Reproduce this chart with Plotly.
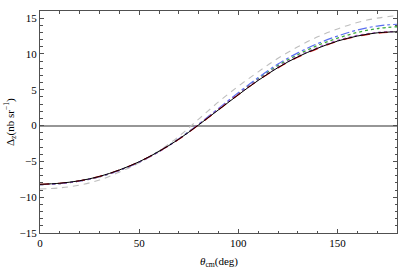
import plotly.graph_objects as go

theta = [0, 10, 20, 30, 40, 50, 60, 70, 80, 90, 100, 110, 120, 130, 140, 150, 160, 170, 180]

black = [-8.2, -8.05, -7.7, -7.1, -6.2, -5.05, -3.6, -1.9, 0.1, 2.2, 4.3, 6.3, 8.1, 9.6, 10.8, 11.8, 12.5, 12.95, 13.1]
red = [-8.2, -8.05, -7.7, -7.1, -6.2, -5.05, -3.6, -1.9, 0.1, 2.2, 4.3, 6.3, 8.05, 9.55, 10.75, 11.75, 12.45, 12.9, 13.05]
purple = [-8.25, -8.1, -7.75, -7.15, -6.25, -5.1, -3.65, -1.9, 0.15, 2.3, 4.4, 6.4, 8.2, 9.7, 10.9, 11.9, 12.6, 13.0, 13.15]
blue = [-8.25, -8.1, -7.75, -7.15, -6.25, -5.1, -3.6, -1.85, 0.2, 2.4, 4.6, 6.7, 8.6, 10.15, 11.45, 12.5, 13.35, 13.9, 14.15]
green = [-8.25, -8.1, -7.75, -7.15, -6.25, -5.1, -3.6, -1.85, 0.15, 2.3, 4.45, 6.5, 8.4, 9.9, 11.2, 12.2, 13.0, 13.55, 13.8]
gray = [-8.85, -8.7, -8.3, -7.6, -6.5, -5.2, -3.55, -1.5, 0.9, 3.3, 5.5, 7.5, 9.4, 11.0, 12.4, 13.5, 14.4, 15.0, 15.35]

x_ticks = [0, 50, 100, 150]
y_ticks = [-15, -10, -5, 0, 5, 10, 15]
y_ticklabels = ["−15", "−10", "−5", "0", "5", "10", "15"]
x_title = "<i>θ</i><sub>cm</sub>(deg)"
y_title = "Δ<sub>z</sub>(nb sr<sup>−1</sup>)"

fig = go.Figure()
series = [
    (gray, "rgb(190,190,190)", "6px,5px", 1.1),
    (green, "rgb(60,170,60)", "dot", 1.3),
    (blue, "rgb(90,110,240)", "dashdot", 1.2),
    (purple, "rgb(170,90,200)", "dot", 1.2),
    (red, "rgb(220,30,30)", "dash", 1.2),
    (black, "black", "solid", 1.0),
]
for ys, col, dash, w in series:
    fig.add_trace(go.Scatter(x=theta, y=ys, mode="lines", line=dict(color=col, dash=dash, width=w, shape="spline"),
                             showlegend=False, hoverinfo="skip"))

font = dict(family="Liberation Serif", size=11, color="black")
axis_common = dict(showgrid=False, showline=True, linecolor="rgb(80,80,80)", linewidth=1, mirror="allticks",
                   ticks="inside", ticklen=4, tickcolor="rgb(80,80,80)", tickfont=font, automargin=False)

fig.update_xaxes(range=[0, 180], tickvals=x_ticks, zeroline=False,
                 minor=dict(ticks="inside", dtick=10, ticklen=2.5, tickcolor="rgb(80,80,80)"), **axis_common)
fig.update_yaxes(range=[-15, 16], tickvals=y_ticks, ticktext=y_ticklabels,
                 zeroline=True, zerolinecolor="rgb(150,150,150)", zerolinewidth=1.5,
                 minor=dict(ticks="inside", dtick=1, ticklen=2.5, tickcolor="rgb(80,80,80)"), **axis_common)

fig.add_annotation(text=x_title, xref="paper", yref="paper", x=0.5, y=0, yshift=-29, yanchor="middle",
                   showarrow=False, font=font)
fig.add_annotation(text=y_title, xref="paper", yref="paper", x=0, y=0.5, xshift=-30, xanchor="center",
                   textangle=-90, showarrow=False, font=font)

fig.update_layout(width=399, height=276, margin=dict(l=40, r=2, t=11, b=43),
                  plot_bgcolor="white", paper_bgcolor="white", font=font)
fig.write_html("out.html", config={"displayModeBar": False},
               post_script="document.body.style.margin='0';")
